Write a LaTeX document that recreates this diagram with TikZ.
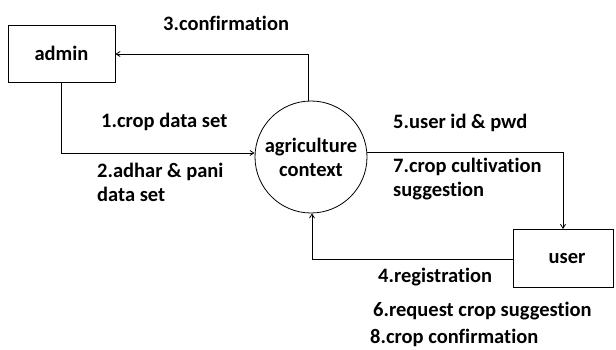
\documentclass[tikz,border=0pt]{standalone}
\usepackage{fontspec}
\setmainfont[Ligatures=NoCommon]{Carlito}
\usetikzlibrary{arrows.meta}
\begin{document}
\begin{tikzpicture}[x=1pt,y=-1pt,
  txt/.style={font=\bfseries\fontsize{20.5}{24}\selectfont},
  lbl/.style={txt, inner sep=0pt, anchor=west, align=left},
  ent/.style={draw, line width=0.8pt, inner sep=0pt, txt},
  flow/.style={draw, line width=0.8pt, -{Straight Barb[length=4pt,width=5pt]}}]
\useasboundingbox (0,0) rectangle (616,350);
\node[ent, minimum width=107pt, minimum height=57pt] (admin) at (61.5,53.5) {admin};
\node[ent, circle, minimum size=112pt, align=center] (ctx) at (311,157) {agriculture\\context};
\node[ent, minimum width=100pt, minimum height=58pt, anchor=north west] (user) at (513,229) {};
\node[txt] (usertxt) at (567,259) {user};
\coordinate (c1) at (61.5,153);
\coordinate (c2) at (308,54);
\coordinate (c3) at (563,152);
\coordinate (c4) at (312,259);
\draw[flow] (admin.south) -- (c1) -- (ctx.west |- c1);
\draw[flow] (ctx.north -| c2) -- (c2) -- (admin.east |- c2);
\draw[flow] (ctx.east |- c3) -- (c3) -- (user.north -| c3);
\draw[flow] (user.west |- c4) -- (c4) -- (ctx.south -| c4);
\node[lbl] (l3) at (163,23) {3.confirmation};
\node[lbl] (l1) at (101,122) {1.crop data set};
\node[lbl] (l2) at (97,182) {2.adhar \& pani\\data set};
\node[lbl] (l5) at (393,123) {5.user id \& pwd};
\node[lbl] (l7) at (393,179) {7.crop cultivation\\suggestion};
\node[lbl] (l4) at (378,277) {4.registration};
\node[lbl] (l6) at (373,311) {6.request crop suggestion};
\node[lbl] (l8) at (370,338) {8.crop confirmation};
\end{tikzpicture}
\end{document}
